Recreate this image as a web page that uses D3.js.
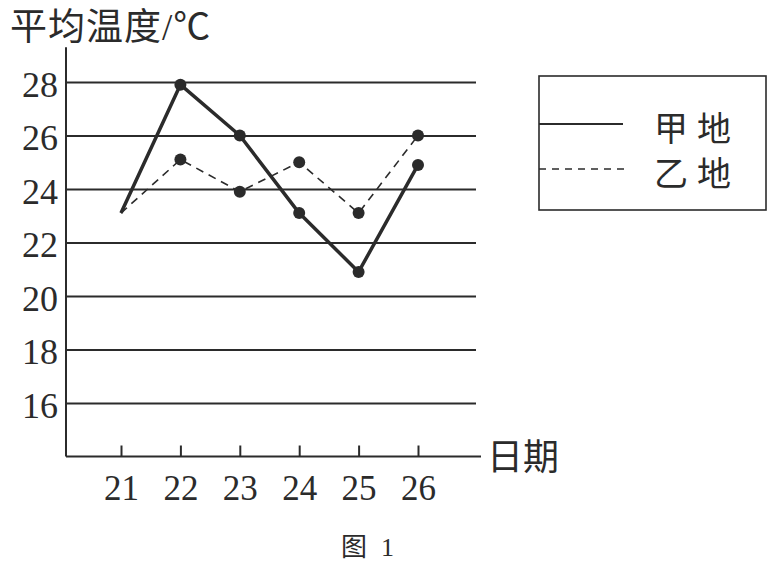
<!DOCTYPE html>
<html>
<head>
<meta charset="utf-8">
<script src="https://cdn.jsdelivr.net/npm/d3@7"></script>
<style>
  body { margin: 0; background: #fff; }
  svg { display: block; font-family: "Liberation Serif", "Noto Sans CJK SC", serif; }
</style>
</head>
<body>
<div id="chart"></div>
<script>
// data
const days = [21, 22, 23, 24, 25, 26];
const jiaTemps = [23.1, 27.9, 26, 23.1, 20.9, 24.9];   // 甲地, solid
const yiTemps = [23.1, 25.1, 23.9, 25, 23.1, 26];      // 乙地, dashed
const yTicks = [16, 18, 20, 22, 24, 26, 28];
const seriesNames = ["甲地", "乙地"];

const width = 781, height = 567;
const ink = "#2b2b2b";
const serif = "'Liberation Serif', 'Noto Sans CJK SC', serif";

const svg = d3.select("#chart").append("svg")
    .attr("width", width)
    .attr("height", height);

const x = d3.scaleLinear().domain([21, 26]).range([121, 418]);
const y = d3.scaleLinear().domain([16, 28]).range([403, 82]);

const left = 66, right = 476, axisY = y(14);

// gridlines + y labels
const yAxis = svg.append("g")
    .attr("transform", `translate(${left},0)`)
    .call(d3.axisLeft(y).tickValues(yTicks).tickSize(-(right - left)).tickPadding(8));
yAxis.attr("font-family", serif).attr("font-size", 36);
yAxis.select(".domain").remove();
yAxis.selectAll(".tick line").attr("stroke", ink).attr("stroke-width", 2);
yAxis.selectAll(".tick text")
    .attr("fill", ink)
    .attr("dy", "0.4em");

// y axis line
svg.append("line")
    .attr("x1", left).attr("x2", left)
    .attr("y1", y(29.3)).attr("y2", axisY)
    .attr("stroke", ink).attr("stroke-width", 2);

// x axis
const xAxis = svg.append("g")
    .attr("transform", `translate(0,${axisY})`)
    .call(d3.axisBottom(x).tickValues(days).tickSize(-11).tickPadding(19).tickFormat(d3.format("d")));
xAxis.attr("font-family", serif).attr("font-size", 35);
xAxis.select(".domain").remove();
xAxis.selectAll(".tick line").attr("stroke", ink).attr("stroke-width", 2);
xAxis.selectAll(".tick text").attr("fill", ink);

svg.append("line")
    .attr("x1", left).attr("x2", 481)
    .attr("y1", axisY).attr("y2", axisY)
    .attr("stroke", ink).attr("stroke-width", 2);

// axis titles
svg.append("text")
    .attr("x", 10).attr("y", 40)
    .attr("fill", ink)
    .style("font-size", "37px")
    .style("letter-spacing", "1px")
    .text("平均温度/℃");

svg.append("text")
    .attr("x", 487).attr("y", 470)
    .attr("fill", ink)
    .style("font-size", "36px")
    .text("日期");

// lines
const line = d3.line().x((d, i) => x(days[i])).y(d => y(d));

svg.append("path")
    .datum(yiTemps)
    .attr("d", line)
    .attr("fill", "none")
    .attr("stroke", ink)
    .attr("stroke-width", 1.6)
    .attr("stroke-dasharray", "8,6");

svg.append("path")
    .datum(jiaTemps)
    .attr("d", line)
    .attr("fill", "none")
    .attr("stroke", ink)
    .attr("stroke-width", 3.5)
    .attr("stroke-linejoin", "round");

// dots (first day has none)
[jiaTemps, yiTemps].forEach(vals => {
    svg.selectAll(null)
        .data(vals.slice(1))
        .enter()
        .append("circle")
        .attr("cx", (d, i) => x(days[i + 1]))
        .attr("cy", d => y(d))
        .attr("r", 6)
        .attr("fill", ink);
});

// legend
const lg = svg.append("g");
lg.append("rect")
    .attr("x", 539).attr("y", 76)
    .attr("width", 227).attr("height", 134)
    .attr("fill", "none")
    .attr("stroke", ink).attr("stroke-width", 1.6);
lg.append("line")
    .attr("x1", 539).attr("x2", 623).attr("y1", 124).attr("y2", 124)
    .attr("stroke", ink).attr("stroke-width", 2);
lg.append("line")
    .attr("x1", 539).attr("x2", 628).attr("y1", 169).attr("y2", 169)
    .attr("stroke", ink).attr("stroke-width", 1.4)
    .attr("stroke-dasharray", "7,6");
lg.selectAll("text")
    .data(seriesNames)
    .enter()
    .append("text")
    .attr("x", 654)
    .attr("y", (d, i) => 141 + i * 45)
    .attr("fill", ink)
    .style("font-size", "34px")
    .style("letter-spacing", "9px")
    .text(d => d);

// caption
svg.append("text")
    .attr("x", 341).attr("y", 556)
    .attr("fill", ink)
    .style("font-size", "26px")
    .text("图")
    .append("tspan")
    .attr("dx", 14)
    .text("1");
</script>
</body>
</html>
